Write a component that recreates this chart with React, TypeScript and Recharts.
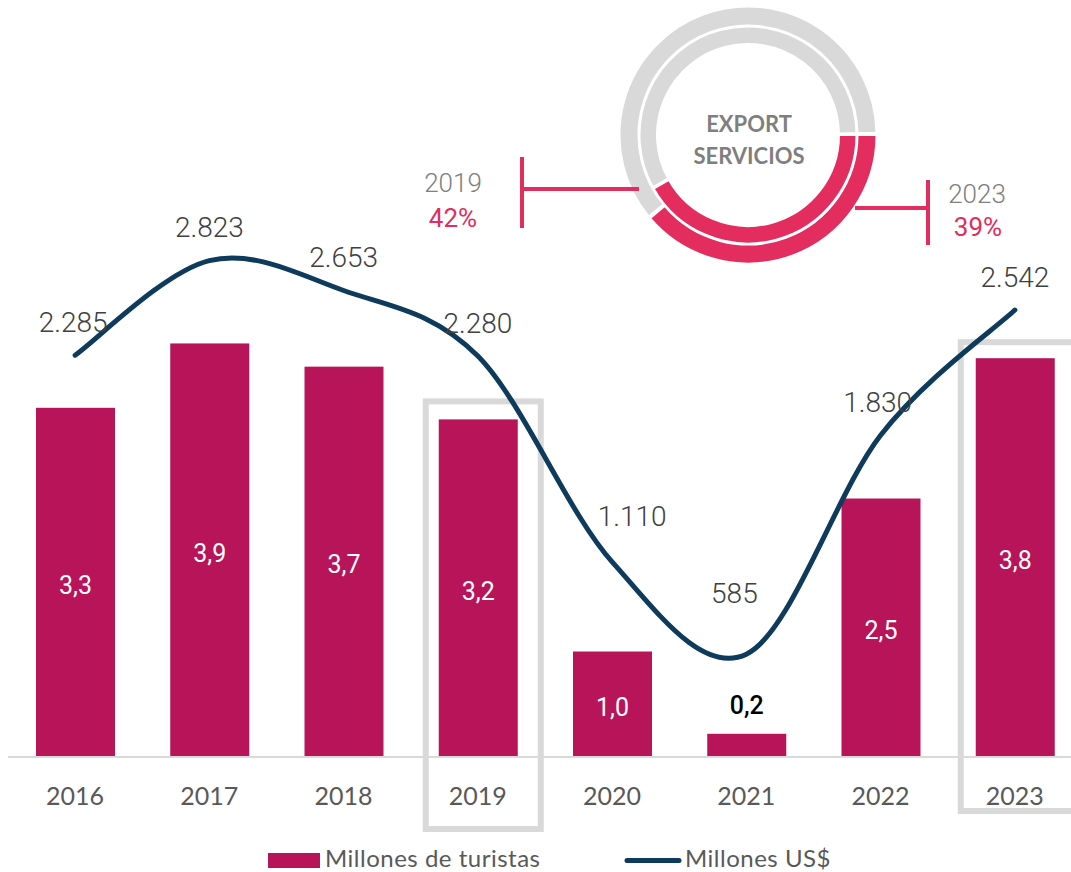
import React from 'react';
import { ComposedChart, Bar, Line, XAxis, YAxis, LabelList, PieChart, Pie, Cell } from 'recharts';

// ---------- data ----------
const years = ['2016', '2017', '2018', '2019', '2020', '2021', '2022', '2023'];
const touristsMillions = [3.31, 3.92, 3.7, 3.2, 1.0, 0.22, 2.45, 3.78];
const revenueMillionsUSD = [2285, 2823, 2653, 2280, 1110, 585, 1830, 2542];
const highlightedYears = ['2019', '2023'];
const exportShareYears = ['2019', '2023'];
const exportSharePct = [42, 39];
const seriesNames = ['Millones de turistas', 'Millones US$'];
const donutTitle = ['EXPORT', 'SERVICIOS'];

const data = years.map((year, i) => ({
  year,
  tourists: touristsMillions[i],
  revenue: revenueMillionsUSD[i],
}));

// ---------- style ----------
const BAR_COLOR = '#B7145A';
const LINE_COLOR = '#0E3A5B';
const RED = '#E22D5E';
const GRAY_RING = '#D9D9D9';
const AXIS_TEXT = '#595959';
const LABEL_TEXT = '#404040';

const highlightBox: Record<string, { left: number; right: number; top: number; bottom: number }> = {
  '2019': { left: 13, right: 23, top: 18, bottom: 72 },
  '2023': { left: 15, right: 26, top: 16, bottom: 54 },
};
const revenueLabelNudge: Record<string, [number, number]> = {
  '2016': [-2, 0],
  '2020': [20, -12],
  '2021': [-12, -28],
  '2022': [-3, 0],
};

const fmtThousands = (v: number) => String(v).replace(/\B(?=(\d{3})+(?!\d))/g, '.');
const fmtDecimal = (v: number) => v.toFixed(1).replace('.', ',');

// Excel-like smoothed line (Catmull-Rom through the points)
function smoothCurve(context: any) {
  let pts: [number, number][] = [];
  return {
    areaStart() {},
    areaEnd() {},
    lineStart() {
      pts = [];
    },
    lineEnd() {
      const n = pts.length;
      if (!n) return;
      context.moveTo(pts[0][0], pts[0][1]);
      const t = 1 / 6;
      for (let i = 0; i < n - 1; i++) {
        const p0 = pts[i - 1] || pts[i];
        const p1 = pts[i];
        const p2 = pts[i + 1];
        const p3 = pts[i + 2] || p2;
        context.bezierCurveTo(
          p1[0] + (p2[0] - p0[0]) * t,
          p1[1] + (p2[1] - p0[1]) * t,
          p2[0] - (p3[0] - p1[0]) * t,
          p2[1] - (p3[1] - p1[1]) * t,
          p2[0],
          p2[1]
        );
      }
    },
    point(x: number, y: number) {
      pts.push([+x, +y]);
    },
  };
}

const BarWithHighlight = (props: any) => {
  const { x, y, width, height, fill, index } = props;
  const year = props.payload?.year ?? years[index];
  const box = highlightedYears.includes(year) ? highlightBox[year] : null;
  return (
    <g>
      {box && (
        <rect
          x={x - box.left}
          y={y - box.top}
          width={width + box.left + box.right}
          height={height + box.top + box.bottom}
          fill="none"
          stroke={GRAY_RING}
          strokeWidth={6}
        />
      )}
      <rect x={x} y={y} width={width} height={height} fill={fill} />
    </g>
  );
};

const BarValueLabel = (props: any) => {
  const { x, y, width, height, value } = props;
  const small = height < 45;
  return (
    <text
      x={x + width / 2}
      y={small ? y - 28 : y + height / 2 + 3}
      textAnchor="middle"
      dominantBaseline="central"
      fontFamily="Roboto, 'Noto Sans', sans-serif"
      fontWeight={small ? 500 : 400}
      fontSize={25}
      fill={small ? '#000000' : '#FFFFFF'}
    >
      {fmtDecimal(Number(value))}
    </text>
  );
};

const LineValueLabel = (props: any) => {
  const { x, y, value, index } = props;
  const nudge = revenueLabelNudge[years[index]] || [0, 0];
  return (
    <text
      x={x + nudge[0]}
      y={y - 33 + nudge[1]}
      textAnchor="middle"
      dominantBaseline="central"
      fontFamily="Roboto, 'Noto Sans', sans-serif"
      fontWeight={300}
      fontSize={28}
      fill={LABEL_TEXT}
    >
      {fmtThousands(Number(value))}
    </text>
  );
};

const outerRing = [
  { name: exportShareYears[1], value: exportSharePct[1] },
  { name: 'resto', value: 100 - exportSharePct[1] },
];
const innerRing = [
  { name: exportShareYears[0], value: exportSharePct[0] },
  { name: 'resto', value: 100 - exportSharePct[0] },
];

export default function App() {
  return (
    <div style={{ position: 'fixed', left: 0, top: 0, width: 1071, height: 872, overflow: 'hidden', background: '#fff' }}>
      <ComposedChart
        width={1090}
        height={872}
        data={data}
        margin={{ top: 18.5, right: 8, left: 8, bottom: 0 }}
      >
        <XAxis
          dataKey="year"
          height={115}
          interval={0}
          tickLine={false}
          tickSize={0}
          tickMargin={30}
          axisLine={{ stroke: GRAY_RING, strokeWidth: 2 }}
          tick={{ fontFamily: 'Lato, sans-serif', fontSize: 25, fill: AXIS_TEXT }}
        />
        <YAxis yAxisId="bar" hide domain={[0, 7]} />
        <YAxis yAxisId="line" hide domain={[0, 4200]} />
        <Bar
          yAxisId="bar"
          dataKey="tourists"
          name={seriesNames[0]}
          fill={BAR_COLOR}
          barSize={79}
          shape={BarWithHighlight}
          isAnimationActive={false}
        >
          <LabelList dataKey="tourists" content={BarValueLabel} />
        </Bar>
        <Line
          yAxisId="line"
          dataKey="revenue"
          name={seriesNames[1]}
          type={smoothCurve as any}
          stroke={LINE_COLOR}
          strokeWidth={5}
          strokeLinecap="round"
          dot={false}
          activeDot={false}
          isAnimationActive={false}
        >
          <LabelList dataKey="revenue" content={LineValueLabel} />
        </Line>
      </ComposedChart>

      <svg width={1071} height={32} style={{ position: 'absolute', left: 0, top: 840, display: 'block' }}>
        <rect x={268} y={13} width={52} height={15} fill={BAR_COLOR} />
        <text x={325} y={17} dominantBaseline="central" fontFamily="Lato, sans-serif" fontSize={24} letterSpacing={0.5} fill={AXIS_TEXT}>
          {seriesNames[0]}
        </text>
        <line x1={627} y1={20.5} x2={679} y2={20.5} stroke={LINE_COLOR} strokeWidth={5} strokeLinecap="round" />
        <text x={685} y={17} dominantBaseline="central" fontFamily="Lato, sans-serif" fontSize={24} letterSpacing={0.5} fill={AXIS_TEXT}>
          {seriesNames[1]}
        </text>
      </svg>

      <div style={{ position: 'absolute', left: 616.5, top: 4 }}>
        <PieChart width={262} height={262} margin={{ top: 0, right: 0, bottom: 0, left: 0 }}>
          <Pie
            data={outerRing}
            dataKey="value"
            cx={131}
            cy={131}
            innerRadius={109.5}
            outerRadius={128.5}
            startAngle={0}
            endAngle={-360}
            paddingAngle={1}
            stroke="#FFFFFF"
            strokeWidth={2}
            isAnimationActive={false}
          >
            <Cell fill={RED} />
            <Cell fill={GRAY_RING} />
          </Pie>
          <Pie
            data={innerRing}
            dataKey="value"
            cx={131}
            cy={131}
            innerRadius={91}
            outerRadius={108.5}
            startAngle={0}
            endAngle={-360}
            paddingAngle={1}
            stroke="#FFFFFF"
            strokeWidth={2}
            isAnimationActive={false}
          >
            <Cell fill={RED} />
            <Cell fill={GRAY_RING} />
          </Pie>
        </PieChart>
      </div>

      <svg width={1071} height={300} style={{ position: 'absolute', left: 0, top: 0, pointerEvents: 'none' }}>
        <text x={749} y={123} textAnchor="middle" dominantBaseline="central" fontFamily="Lato, sans-serif" fontWeight={700} fontSize={22} fill="#7F7F7F">
          {donutTitle[0]}
        </text>
        <text x={749} y={155} textAnchor="middle" dominantBaseline="central" fontFamily="Lato, sans-serif" fontWeight={700} fontSize={22} fill="#7F7F7F">
          {donutTitle[1]}
        </text>

        <line x1={522} y1={157} x2={522} y2={228} stroke={RED} strokeWidth={4} />
        <line x1={522} y1={189} x2={639} y2={189} stroke={RED} strokeWidth={4} />
        <text x={453} y={183} textAnchor="middle" dominantBaseline="central" fontFamily="Roboto, sans-serif" fontWeight={300} fontSize={26} fill="#808080">
          {exportShareYears[0]}
        </text>
        <text x={453} y={218} textAnchor="middle" dominantBaseline="central" fontFamily="Roboto, sans-serif" fontWeight={400} fontSize={26} fill={RED}>
          {exportSharePct[0] + '%'}
        </text>

        <line x1={928} y1={180} x2={928} y2={245} stroke={RED} strokeWidth={4} />
        <line x1={855} y1={208} x2={928} y2={208} stroke={RED} strokeWidth={4} />
        <text x={977} y={194} textAnchor="middle" dominantBaseline="central" fontFamily="Roboto, sans-serif" fontWeight={300} fontSize={26} fill="#808080">
          {exportShareYears[1]}
        </text>
        <text x={978} y={227} textAnchor="middle" dominantBaseline="central" fontFamily="Roboto, sans-serif" fontWeight={400} fontSize={26} fill={RED}>
          {exportSharePct[1] + '%'}
        </text>
      </svg>
    </div>
  );
}
